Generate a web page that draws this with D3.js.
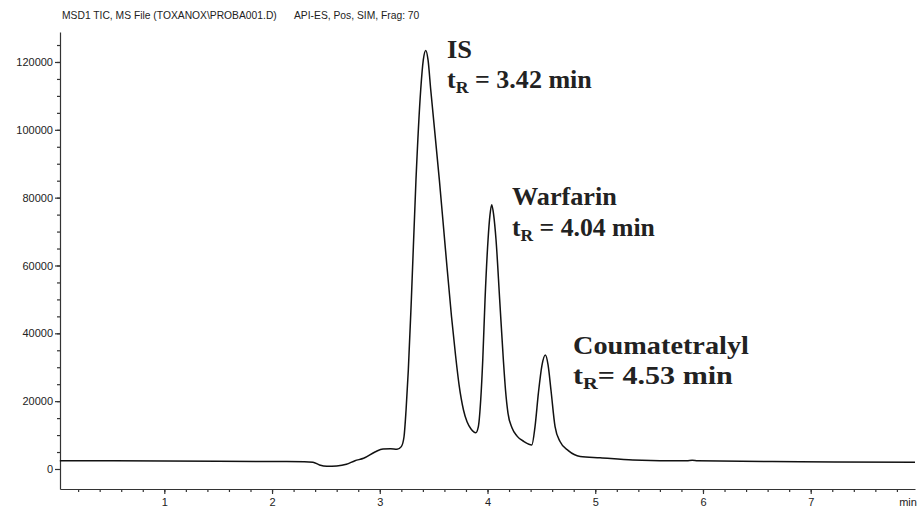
<!DOCTYPE html>
<html>
<head>
<meta charset="utf-8">
<script src="https://cdn.jsdelivr.net/npm/d3@7"></script>
<style>
  html, body { margin: 0; padding: 0; background: #fff; }
  #chromatogram { width: 920px; height: 509px; }
</style>
</head>
<body>
<div id="chromatogram"></div>
<script>
"use strict";

// Retention time (min) and TIC abundance
const times = [0.03, 0.5, 1.0, 1.5, 2.0, 2.3, 2.38, 2.44, 2.51, 2.6, 2.69, 2.77, 2.85, 2.96, 3.03, 3.10, 3.16, 3.20,
    3.225, 3.244, 3.265, 3.293, 3.336, 3.380, 3.404, 3.427, 3.448, 3.473, 3.553, 3.610, 3.666, 3.703, 3.736, 3.777,
    3.810, 3.847, 3.891, 3.915, 3.937, 3.956, 3.977, 4.005, 4.023, 4.039, 4.057, 4.079, 4.113, 4.147, 4.167, 4.190,
    4.228, 4.274, 4.339, 4.411, 4.441, 4.472, 4.505, 4.537, 4.562, 4.59, 4.627, 4.673, 4.75, 4.86, 5.045, 5.35, 5.85,
    5.9, 5.95, 6.9, 7.968];
const abundance = [2450, 2400, 2330, 2260, 2200, 2150, 2000, 1200, 800, 900, 1380, 2450, 3150, 5100, 5900, 6000, 5800, 6600,
    9500, 17400, 29200, 49900, 85250, 111800, 120600, 123400, 120600, 111800, 85250, 64600, 44900, 33600, 24800, 17400,
    13900, 11800, 10700, 12500, 20400, 32200, 49900, 67600, 74900, 77900, 74900, 67600, 49900, 32200, 23300, 16500,
    12100, 9700, 8100, 7100, 12500, 22300, 30500, 33600, 30700, 23000, 12500, 8100, 5400, 3700, 3300, 2650, 2400,
    2550, 2400, 2150, 1970];

const xMajor = [1, 2, 3, 4, 5, 6, 7];
const xMinor = d3.range(1, 40).map(i => i / 5);
const yMajor = [0, 20000, 40000, 60000, 80000, 100000, 120000];
const yMinor = d3.range(1, 26).map(i => i * 5000);

const peakNames = ["IS", "Warfarin", "Coumatetralyl"];
const peakTimes = ["3.42", "4.04", "4.53"];
const peakEq = [" = ", " = ", "= "];

const title1 = "MSD1 TIC, MS File (TOXANOX\\PROBA001.D)";
const title2 = "API-ES, Pos, SIM, Frag: 70";

const width = 920, height = 509;
const svg = d3.select("#chromatogram").append("svg")
    .attr("width", width).attr("height", height)
    .attr("viewBox", `0 0 ${width} ${height}`);

const x = d3.scaleLinear().domain([0.0318, 7.968]).range([60, 915]);
const y = d3.scaleLinear().domain([-5900, 128840]).range([489, 32]);

const axisFont = "'Liberation Sans', Arial, sans-serif";
const axisColor = "#333";

// Y axis
svg.append("g").attr("transform", "translate(60,0)")
    .call(d3.axisLeft(y).tickValues(yMinor).tickSize(3).tickSizeOuter(0).tickFormat(""))
    .call(g => g.select(".domain").remove());
svg.append("g").attr("transform", "translate(60,0)")
    .call(d3.axisLeft(y).tickValues(yMajor).tickSize(5).tickSizeOuter(0).tickPadding(2).tickFormat(d3.format("d")));

// X axis
svg.append("g").attr("transform", "translate(0,489)")
    .call(d3.axisBottom(x).tickValues(xMinor).tickSize(3).tickSizeOuter(0).tickFormat(""))
    .call(g => g.select(".domain").remove());
svg.append("g").attr("transform", "translate(0,489)")
    .call(d3.axisBottom(x).tickValues(xMajor).tickSize(5).tickSizeOuter(0).tickPadding(4).tickFormat(d3.format("d")));

svg.selectAll(".domain, .tick line").attr("stroke", axisColor).attr("stroke-width", 1.2);
svg.selectAll(".tick text")
    .attr("font-family", axisFont).attr("font-size", "11px").attr("fill", "#222");

svg.append("text").attr("x", 908).attr("y", 506)
    .attr("text-anchor", "middle")
    .attr("font-family", axisFont).attr("font-size", "11px").attr("fill", "#222")
    .text("min");

// Title line
svg.append("text").attr("x", 62).attr("y", 19)
    .attr("font-family", axisFont).attr("font-size", "10.3px").attr("fill", "#222")
    .text(title1);
svg.append("text").attr("x", 294).attr("y", 19)
    .attr("font-family", axisFont).attr("font-size", "10.3px").attr("fill", "#222")
    .text(title2);

// Trace
const points = times.map((t, i) => [t, abundance[i]]);
const line = d3.line()
    .x(d => x(d[0]))
    .y(d => y(d[1]))
    .curve(d3.curveMonotoneX);

svg.append("path")
    .datum(points)
    .attr("fill", "none")
    .attr("stroke", "#111")
    .attr("stroke-width", 1.5)
    .attr("d", line);

// Peak labels (stretched horizontally to the printed widths)
const labelPos = [[447, 58, 88], [512, 205, 236], [573, 354, 384]];
const nameWidth = [25, 105, 176];
const rtWidth = [145, 143, 160];
const labelFont = "'Liberation Serif', 'Times New Roman', serif";

function fitWidth(g, target) {
    const w = g.node().getBBox().width;
    g.select("text").attr("transform", `scale(${target / w},1)`);
}

peakNames.forEach((name, i) => {
    const [lx, ly1, ly2] = labelPos[i];
    const g1 = svg.append("g").attr("transform", `translate(${lx},${ly1})`);
    g1.append("text")
        .attr("font-family", labelFont).attr("font-weight", "bold")
        .attr("font-size", "25px").attr("fill", "#222")
        .text(name);
    fitWidth(g1, nameWidth[i]);

    const g2 = svg.append("g").attr("transform", `translate(${lx},${ly2})`);
    const t = g2.append("text")
        .attr("font-family", labelFont).attr("font-weight", "bold")
        .attr("font-size", "25px").attr("fill", "#222");
    t.append("tspan").text("t");
    t.append("tspan").attr("font-size", "17px").attr("dy", 5).text("R");
    t.append("tspan").attr("dy", -5).text(peakEq[i] + peakTimes[i] + " min");
    fitWidth(g2, rtWidth[i]);
});
</script>
</body>
</html>
